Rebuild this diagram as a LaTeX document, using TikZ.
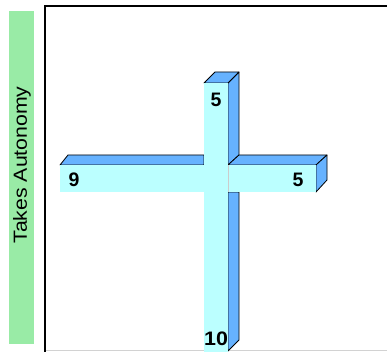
\documentclass[tikz,border=0pt]{standalone}
\usepackage{fontspec}
\setmainfont{Liberation Sans}
\usepackage{graphicx}
\usetikzlibrary{positioning}
\definecolor{barFront}{HTML}{BBFFFF}
\definecolor{barSide}{HTML}{66B2FF}
\definecolor{axisGreen}{HTML}{99EBA6}

\begin{document}
\begin{tikzpicture}[x=1pt, y=-1pt,
    side/.style={fill=barSide, draw=black, line width=0.8pt, line join=round},
    num/.style={font=\fontsize{19.5}{19.5}\selectfont\bfseries, inner sep=0pt}]
        \useasboundingbox (0,0) rectangle (387,352);
        % axis strip and frame
        \fill[axisGreen] (9,11) rectangle (34,344);
        \node[rotate=90, font=\fontsize{19}{19}\selectfont, inner sep=0pt] (axislabel) at (22,165) {\scalebox{1.12}[1]{Takes Autonomy}};
        \draw[gray!35, line width=1pt] (44,350.5) -- (387,350.5);
        \draw[line width=2pt] (44.5,352) -- (44.5,6.5) -- (387,6.5);
        % back faces of the cross
        \draw[side] (228,83) -- (239,72) -- (239,155) -- (228,165) -- cycle;
        \draw[side] (228,192) -- (239,192) -- (239,340) -- (228,351) -- cycle;
        \draw[side] (60,165) -- (68,155) -- (204,155) -- (204,165) -- cycle;
        \draw[side] (228,165) -- (239,155) -- (327,155) -- (316,165) -- cycle;
        \draw[side] (316,165) -- (327,155) -- (327,180) -- (316,192) -- cycle;
        \draw[side] (204,83) -- (215,72) -- (239,72) -- (228,83) -- cycle;
        % front faces
        \fill[barFront] (60,165) rectangle (316,192);
        \fill[barFront] (204,83) rectangle (228,352);
        \draw[gray!40, line width=0.5pt] (228,165) -- (228,192);
        % values
        \node[num] (topval) at (216,100) {5};
        \node[num] (leftval) at (74,180) {9};
        \node[num] (rightval) at (298,180) {5};
        \node[num] (bottomval) at (216,339) {\scalebox{1.1}[1]{10}};
      \end{tikzpicture}
\end{document}
